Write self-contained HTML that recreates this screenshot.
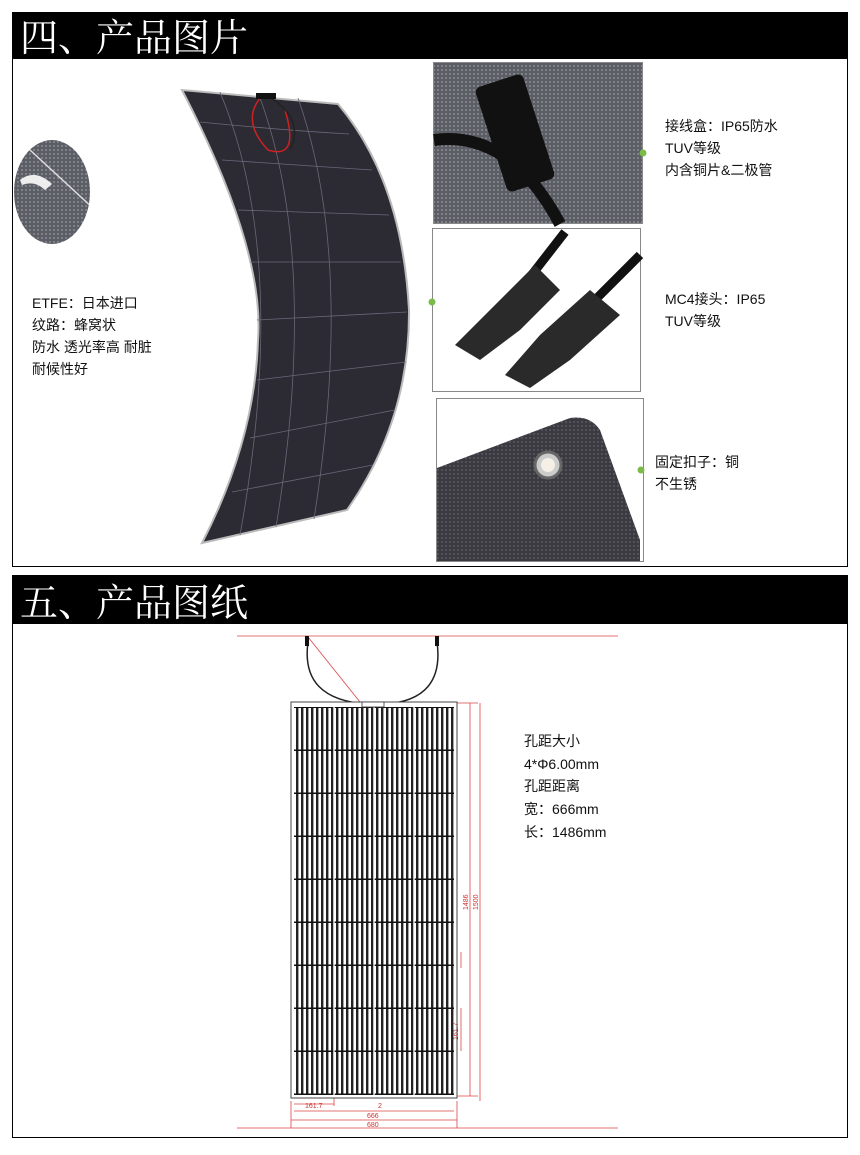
<!DOCTYPE html>
<html><head><meta charset="utf-8"><style>
body{margin:0;background:#fff;width:860px;height:1155px;overflow:hidden;font-family:"Liberation Sans","Noto Sans CJK SC",sans-serif}
</style></head><body>
<svg width="860" height="1155" xmlns="http://www.w3.org/2000/svg" style="position:absolute;left:0;top:0">
<defs>
<pattern id="cells" x="291" y="708" width="5" height="43" patternUnits="userSpaceOnUse">
<rect width="5" height="43" fill="#fff"/><rect x="0" width="2.4" height="43" fill="#222"/><rect y="41.5" width="5" height="1.5" fill="#111"/>
</pattern>
<pattern id="tex" width="4" height="4" patternUnits="userSpaceOnUse"><rect width="4" height="4" fill="#3a3a40"/><circle cx="2" cy="2" r="1" fill="#5a5a62"/></pattern>
<pattern id="tex2" width="4" height="4" patternUnits="userSpaceOnUse"><rect width="4" height="4" fill="#5c5e66"/><circle cx="2" cy="2" r="1" fill="#8a8c94"/></pattern>
<clipPath id="cc"><ellipse cx="52" cy="192" rx="38" ry="52"/></clipPath>
</defs>
<rect x="12" y="12" width="836" height="46" fill="#000"/>
<text x="20" y="51" font-size="38" fill="#fff" font-family="Noto Serif CJK SC, serif">四、产品图片</text>
<rect x="12.5" y="58.5" width="835" height="508" fill="none" stroke="#000"/>
<path d="M182,90 Q265,250 258,340 Q255,440 202,543 L347,510 Q410,420 409,310 Q402,180 338,104 Z" fill="#2c2a33" stroke="#bbb" stroke-width="2"/>
<g stroke="#6a6878" stroke-width="0.8" fill="none">
<path d="M200,122 Q280,130 349,134"/><path d="M222,160 L372,170"/><path d="M238,210 L389,215"/><path d="M250,262 L401,262"/><path d="M257,320 L407,312"/><path d="M257,380 L406,362"/><path d="M250,438 L395,410"/><path d="M232,492 L373,465"/>
<path d="M220,92 Q290,260 240,535"/><path d="M259,95 Q320,260 276,527"/><path d="M298,98 Q355,260 314,519"/>
</g>
<path d="M262,96 Q240,120 268,150 Q300,160 285,110" fill="none" stroke="#c22" stroke-width="1.5"/>
<path d="M270,97 Q305,120 290,150" fill="none" stroke="#222" stroke-width="1.5"/>
<rect x="256" y="93" width="20" height="6" fill="#111"/>
<g clip-path="url(#cc)"><rect x="10" y="135" width="90" height="115" fill="url(#tex2)"/>
<path d="M20,180 Q35,168 52,184 L45,190 Q35,180 22,185Z" fill="#eee"/>
<line x1="30" y1="150" x2="95" y2="210" stroke="#ddd" stroke-width="1.5"/></g>
<g font-size="14" fill="#111">
<text x="32" y="308">ETFE：日本进口</text><text x="32" y="330">纹路：蜂窝状</text><text x="32" y="352">防水 透光率高 耐脏</text><text x="32" y="374">耐候性好</text>
</g>
<rect x="433.5" y="62.5" width="209" height="161" fill="url(#tex2)" stroke="#888"/>
<path d="M434,140 Q510,130 560,224" fill="none" stroke="#111" stroke-width="12"/>
<rect x="490" y="78" width="50" height="110" rx="6" fill="#111" transform="rotate(-18 515 133)"/>
<rect x="432.5" y="228.5" width="208" height="163" fill="#fff" stroke="#888"/>
<path d="M520,290 L565,232 M575,320 L640,255" stroke="#111" stroke-width="9"/>
<path d="M455,345 L500,300 L535,265 L560,290 L520,330 L480,360Z" fill="#2a2a2a"/>
<path d="M505,375 L540,335 L590,290 L620,315 L570,360 L530,388Z" fill="#2a2a2a"/>
<rect x="436.5" y="398.5" width="207" height="163" fill="#fff" stroke="#888"/>
<path d="M437,468 L570,418 Q590,415 600,430 L640,540 L640,561 L437,561Z" fill="url(#tex)"/>
<circle cx="548" cy="465" r="13" fill="#ccc" stroke="#666" stroke-width="3"/><circle cx="548" cy="465" r="7" fill="#f5efe6"/>
<g fill="#7cbb4a"><circle cx="643" cy="153" r="3.5"/><circle cx="432" cy="302" r="3.5"/><circle cx="641" cy="470" r="3.5"/></g>
<g font-size="14" fill="#111">
<text x="665" y="131">接线盒：IP65防水</text><text x="665" y="153">TUV等级</text><text x="665" y="175">内含铜片&amp;二极管</text>
<text x="665" y="304">MC4接头：IP65</text><text x="665" y="326">TUV等级</text>
<text x="655" y="467">固定扣子：铜</text><text x="655" y="489">不生锈</text>
</g>
<rect x="12" y="575" width="836" height="48" fill="#000"/>
<text x="20" y="616" font-size="38" fill="#fff" font-family="Noto Serif CJK SC, serif">五、产品图纸</text>
<rect x="12.5" y="623.5" width="835" height="514" fill="none" stroke="#000"/>
<g stroke="#d44" stroke-width="0.8" fill="none">
<line x1="237" y1="636" x2="618" y2="636"/><line x1="237" y1="1128" x2="618" y2="1128"/>
<line x1="308" y1="637" x2="360" y2="702"/>
<line x1="457" y1="703" x2="478" y2="703"/><line x1="457" y1="1096" x2="478" y2="1096"/>
<line x1="470" y1="703" x2="470" y2="1096"/><line x1="480" y1="703" x2="480" y2="1101"/>
<line x1="291" y1="1101" x2="291" y2="1128"/><line x1="457" y1="1101" x2="457" y2="1128"/>
<line x1="291" y1="1120" x2="457" y2="1120"/><line x1="294" y1="1111" x2="454" y2="1111"/>
<line x1="294" y1="1104" x2="334" y2="1104"/><line x1="334" y1="1096" x2="334" y2="1106"/>
<line x1="461" y1="1008" x2="461" y2="1051"/><line x1="461" y1="952" x2="461" y2="968"/>
</g>
<path d="M308,642 Q300,700 368,704 M437,642 Q445,700 385,704" fill="none" stroke="#222" stroke-width="1.5"/>
<rect x="305" y="636" width="4" height="10" fill="#111"/><rect x="435" y="636" width="4" height="10" fill="#111"/>
<rect x="291" y="702" width="166" height="396" fill="#fff" stroke="#444"/>
<rect x="294" y="707" width="160" height="388" fill="url(#cells)"/>
<g stroke="#fff" stroke-width="1.3"><line x1="334" y1="707" x2="334" y2="1095"/><line x1="374" y1="707" x2="374" y2="1095"/><line x1="414" y1="707" x2="414" y2="1095"/></g>
<rect x="362" y="702" width="22" height="5" fill="#fff" stroke="#333" stroke-width="0.8"/>
<g font-size="7" fill="#c33"><text x="468" y="910" transform="rotate(-90 468 910)">1486</text><text x="478" y="910" transform="rotate(-90 478 910)">1500</text>
<text x="305" y="1108">161.7</text><text x="367" y="1118">666</text><text x="367" y="1127">680</text><text x="378" y="1108">2</text><text x="458" y="1040" transform="rotate(-90 458 1040)">161.7</text></g>
<g font-size="14" fill="#111">
<text x="524" y="746">孔距大小</text><text x="524" y="769">4*Φ6.00mm</text><text x="524" y="791">孔距距离</text><text x="524" y="814">宽：666mm</text><text x="524" y="837">长：1486mm</text>
</g>
</svg>
</body></html>
